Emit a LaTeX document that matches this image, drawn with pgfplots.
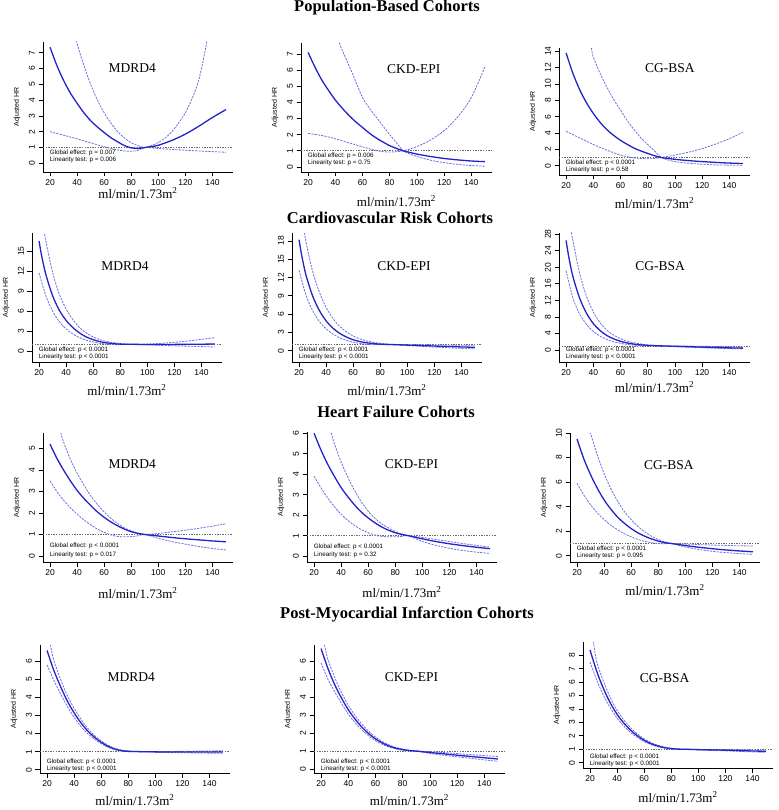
\documentclass[border=0pt]{standalone}
\usepackage{fontspec}
\setmainfont{Liberation Serif}
\newfontfamily\arialf{Liberation Sans}
\usepackage{pgfplots}
\pgfplotsset{compat=1.18}
\definecolor{mainc}{RGB}{35,35,200}
\definecolor{cic}{RGB}{110,110,225}
\definecolor{refc}{RGB}{105,105,105}
\newcommand{\tickfont}{\arialf\fontsize{8.5}{9.5}\selectfont}
\newcommand{\ylfont}{\arialf\fontsize{7}{8}\selectfont}
\newcommand{\ptfont}{\arialf\fontsize{6.3}{8}\selectfont}
\newcommand{\lblfont}{\fontsize{13.5}{15}\selectfont}
\newcommand{\xlfont}{\fontsize{13}{15}\selectfont}
\newcommand{\ttlfont}{\bfseries\fontsize{16.5}{18}\selectfont}
\pgfplotsset{
  rpanel/.style={
    scale only axis, anchor=south west,
    xmin=14.8, xmax=155.2,
    axis x line*=bottom, axis y line*=left,
    axis line style={-, line width=0.75pt, black},
    xtick={20,40,...,140},
    tick align=outside, major tick length=4.5pt,
    every tick/.style={black, line width=0.75pt},
    /pgf/number format/assume math mode=true,
    tick label style={font=\tickfont},
    yticklabel style={rotate=90, anchor=south},
    clip mode=individual,
  },
  mainl/.style={mainc, line width=1.3pt, smooth},
  cil/.style={cic, line width=0.8pt, dash pattern=on 2.2pt off 1.1pt, smooth},
  refl/.style={refc, line width=0.7pt, dash pattern=on 1.3pt off 1.3pt},
}
\newcommand{\refline}{\addplot[refl] coordinates {(14.8,1) (155.2,1)};}
\newcommand{\ptext}[4]{\node[anchor=south west, font=\ptfont, align=left, inner sep=0pt] at ([yshift=#1pt]rel axis cs:0.035,0) {Global effect: p #3\\[#2pt]Linearity test: p #4};}
\newcommand{\ylab}{\node[rotate=90, font=\ylfont] at ([xshift=-26pt]rel axis cs:0,0.5) {Adjusted HR};}
\newcommand{\xlab}[1]{\node[font=\xlfont] at ([yshift=-#1pt]rel axis cs:0.5,0) {ml/min/1.73m\textsuperscript{2}};}
\newcommand{\plab}[3]{\node[font=\lblfont] at (rel axis cs:#1,#2) {#3};}
\begin{document}
\begin{tikzpicture}
\useasboundingbox (0pt,0pt) rectangle (778pt,-810pt);
\node[font=\ttlfont, anchor=base] at (387pt,-12pt) {Population-Based Cohorts};
\node[font=\ttlfont, anchor=base] at (390pt,-223pt) {Cardiovascular Risk Cohorts};
\node[font=\ttlfont, anchor=base] at (396pt,-417pt) {Heart Failure Cohorts};
\node[font=\ttlfont, anchor=base] at (407pt,-618pt) {Post-Myocardial Infarction Cohorts};

% ---------- Row 1: Population-based ----------
\begin{axis}[rpanel, at={(43pt,-172pt)}, width=190pt, height=130pt, ymin=-0.55, ymax=7.68, ytick={0,...,7}]
\refline
\addplot[cil] coordinates {(38,8.6)(40,7.6)(45,6.2)(50,5.0)(55,4.0)(60,3.2)(65,2.55)(70,2.0)(75,1.6)(80,1.3)(85,1.12)(90,1.0)(95,1.12)(100,1.32)(105,1.6)(110,2.0)(115,2.55)(120,3.2)(125,4.1)(130,5.3)(135,7.3)(137,8.4)};
\addplot[cil] coordinates {(20,2.0)(30,1.78)(40,1.55)(50,1.3)(60,1.05)(70,0.85)(75,0.78)(80,0.76)(85,0.82)(90,1.0)(95,0.98)(100,0.94)(110,0.88)(120,0.83)(130,0.78)(140,0.74)(150,0.7)};
\addplot[mainl] coordinates {(20,7.35)(25,6.2)(30,5.25)(35,4.45)(40,3.8)(45,3.2)(50,2.7)(55,2.3)(60,1.95)(65,1.62)(70,1.36)(75,1.12)(80,0.98)(85,0.94)(90,1.0)(95,1.06)(100,1.14)(110,1.45)(120,1.85)(130,2.35)(140,2.9)(150,3.4)};
\plab{0.47}{0.80}{MDRD4}
\ptext{9}{-1}{= 0.007}{= 0.006}
\ylab \xlab{21}
\end{axis}

\begin{axis}[rpanel, at={(301pt,-172pt)}, width=191pt, height=129pt, ymin=-0.31, ymax=7.68, ytick={0,...,7}]
\refline
\addplot[cil] coordinates {(41,8.5)(43,7.7)(45,7.25)(50,6.3)(55,5.3)(60,4.3)(65,3.65)(70,3.1)(75,2.55)(80,2.0)(85,1.5)(90,1.0)(95,0.8)(100,0.65)(110,0.42)(120,0.27)(130,0.16)(140,0.09)(150,0.05)};
\addplot[cil] coordinates {(20,2.08)(30,1.95)(40,1.75)(50,1.5)(60,1.25)(70,1.02)(75,0.95)(80,0.93)(85,0.95)(90,1.0)(95,1.12)(100,1.27)(105,1.45)(110,1.67)(120,2.25)(130,3.1)(140,4.3)(150,6.2)};
\addplot[mainl] coordinates {(20,7.1)(25,6.2)(30,5.4)(35,4.75)(40,4.15)(45,3.65)(50,3.2)(55,2.8)(60,2.45)(65,2.1)(70,1.8)(75,1.55)(80,1.32)(85,1.15)(90,1.0)(95,0.9)(100,0.8)(110,0.65)(120,0.53)(130,0.44)(140,0.37)(150,0.33)};
\plab{0.59}{0.80}{CKD-EPI}
\ptext{6}{-1}{= 0.006}{= 0.75}
\ylab \xlab{29}
\end{axis}

\begin{axis}[rpanel, at={(559pt,-175pt)}, width=191pt, height=127pt, ymin=-1.14, ymax=14.4, ytick={0,2,...,14}]
\refline
\addplot[cil] coordinates {(37,16)(38.5,14.5)(40,13.3)(45,11.3)(50,9.6)(55,8.1)(60,6.8)(65,5.5)(70,4.4)(75,3.4)(80,2.6)(85,1.8)(90,1.0)(95,0.7)(100,0.5)(110,0.3)(120,0.18)(130,0.1)(140,0.06)(150,0.04)};
\addplot[cil] coordinates {(20,4.2)(30,3.4)(40,2.6)(50,1.9)(60,1.3)(70,0.95)(80,0.85)(85,0.88)(90,1.0)(100,1.3)(110,1.65)(120,2.1)(130,2.65)(140,3.3)(150,4.1)};
\addplot[mainl] coordinates {(20,13.8)(25,11.3)(30,9.3)(35,7.7)(40,6.4)(45,5.3)(50,4.4)(55,3.7)(60,3.1)(65,2.6)(70,2.15)(75,1.8)(80,1.5)(85,1.22)(90,1.0)(100,0.78)(110,0.62)(120,0.5)(130,0.4)(140,0.32)(150,0.26)};
\plab{0.58}{0.84}{CG-BSA}
\ptext{2}{-1}{< 0.0001}{= 0.58}
\ylab \xlab{28}
\end{axis}

% ---------- Row 2: Cardiovascular risk ----------
\begin{axis}[rpanel, at={(32pt,-362pt)}, width=190pt, height=129pt, ymin=-1.65, ymax=17.7, ytick={0,3,...,15}]
\refline
\addplot[cil] coordinates {(23,19)(24,17.7)(25,16.5)(30,11.8)(35,8.5)(40,6.3)(45,4.7)(50,3.5)(55,2.7)(60,2.1)(65,1.7)(70,1.42)(75,1.25)(80,1.12)(90,1.0)(100,1.05)(110,1.15)(120,1.3)(130,1.5)(140,1.75)(150,2.0)};
\addplot[cil] coordinates {(20,11.7)(25,8.3)(30,6.0)(35,4.4)(40,3.3)(45,2.55)(50,2.0)(55,1.6)(60,1.35)(65,1.15)(70,1.03)(75,0.97)(80,0.95)(90,1.0)(100,0.92)(110,0.85)(120,0.78)(130,0.72)(140,0.66)(150,0.6)};
\addplot[mainl] coordinates {(20,16.5)(22,14.2)(25,11.5)(30,8.3)(35,6.1)(40,4.6)(45,3.5)(50,2.7)(55,2.1)(60,1.7)(65,1.4)(70,1.22)(75,1.1)(80,1.03)(90,1.0)(100,0.98)(110,0.98)(120,0.99)(130,1.0)(140,1.02)(150,1.05)};
\plab{0.49}{0.74}{MDRD4}
\ptext{2}{-1}{< 0.0001}{< 0.0001}
\ylab \xlab{28}
\end{axis}

\begin{axis}[rpanel, at={(292pt,-362pt)}, width=190pt, height=129pt, ymin=-1.85, ymax=19.3, ytick={0,3,...,18}]
\refline
\addplot[cil] coordinates {(23,21)(24,19.3)(25,18)(30,13.0)(35,9.6)(40,7.1)(45,5.3)(50,4.0)(55,3.1)(60,2.4)(65,1.95)(70,1.6)(75,1.38)(80,1.2)(90,1.0)(100,0.98)(110,0.97)(120,0.95)(130,0.93)(140,0.9)(150,0.88)};
\addplot[cil] coordinates {(20,13.2)(25,9.2)(30,6.6)(35,4.8)(40,3.6)(45,2.75)(50,2.1)(55,1.7)(60,1.4)(65,1.2)(70,1.07)(75,1.0)(80,0.97)(90,1.0)(100,0.85)(110,0.72)(120,0.6)(130,0.5)(140,0.38)(150,0.3)};
\addplot[mainl] coordinates {(20,18.2)(22,15.6)(25,12.5)(30,9.0)(35,6.6)(40,4.9)(45,3.7)(50,2.85)(55,2.25)(60,1.8)(65,1.5)(70,1.3)(75,1.17)(80,1.08)(90,1.0)(100,0.92)(110,0.85)(120,0.77)(130,0.7)(140,0.62)(150,0.56)};
\plab{0.59}{0.74}{CKD-EPI}
\ptext{2}{-1}{< 0.0001}{< 0.0001}
\ylab \xlab{28}
\end{axis}

\begin{axis}[rpanel, at={(559pt,-362pt)}, width=191pt, height=129pt, ymin=-2.9, ymax=28.3, ytick={0,4,...,28}]
\refline
\addplot[cil] coordinates {(23,30)(24,28.3)(25,26.5)(30,18.5)(35,13)(40,9.2)(45,6.6)(50,4.8)(55,3.6)(60,2.75)(65,2.15)(70,1.75)(75,1.45)(80,1.25)(90,1.0)(100,0.98)(110,0.95)(120,0.9)(130,0.85)(140,0.78)(150,0.72)};
\addplot[cil] coordinates {(20,19.2)(25,12.6)(30,8.7)(35,6.2)(40,4.5)(45,3.35)(50,2.55)(55,2.0)(60,1.62)(65,1.35)(70,1.17)(75,1.07)(80,1.0)(90,1.0)(100,0.82)(110,0.68)(120,0.56)(130,0.45)(140,0.36)(150,0.28)};
\addplot[mainl] coordinates {(20,26.5)(22,22.5)(25,17.8)(30,12.5)(35,8.9)(40,6.4)(45,4.7)(50,3.5)(55,2.7)(60,2.1)(65,1.7)(70,1.42)(75,1.25)(80,1.12)(90,1.0)(100,0.9)(110,0.8)(120,0.7)(130,0.6)(140,0.52)(150,0.45)};
\plab{0.53}{0.74}{CG-BSA}
\ptext{2}{-1}{< 0.0001}{< 0.0001}
\ylab \xlab{25}
\end{axis}

% ---------- Row 3: Heart failure ----------
\begin{axis}[rpanel, at={(43pt,-562pt)}, width=190pt, height=129pt, ymin=-0.28, ymax=5.72, ytick={0,...,5}]
\refline
\addplot[cil] coordinates {(26,6.5)(28,5.72)(30,5.3)(35,4.5)(40,3.85)(45,3.3)(50,2.8)(55,2.4)(60,2.05)(65,1.75)(70,1.5)(75,1.3)(80,1.17)(85,1.07)(90,1.0)(100,1.05)(110,1.12)(120,1.2)(130,1.29)(140,1.39)(150,1.5)};
\addplot[cil] coordinates {(20,3.5)(25,3.0)(30,2.6)(35,2.25)(40,1.95)(45,1.68)(50,1.45)(55,1.25)(60,1.1)(65,0.98)(70,0.91)(75,0.89)(80,0.9)(85,0.94)(90,1.0)(100,0.82)(110,0.67)(120,0.55)(130,0.44)(140,0.35)(150,0.28)};
\addplot[mainl] coordinates {(20,5.2)(25,4.55)(30,4.0)(35,3.5)(40,3.05)(45,2.68)(50,2.35)(55,2.05)(60,1.8)(65,1.58)(70,1.4)(75,1.25)(80,1.13)(85,1.05)(90,1.0)(100,0.93)(110,0.86)(120,0.8)(130,0.75)(140,0.7)(150,0.66)};
\plab{0.47}{0.76}{MDRD4}
\ptext{4}{1}{< 0.0001}{= 0.017}
\ylab \xlab{31}
\end{axis}

\begin{axis}[rpanel, at={(307pt,-562pt)}, width=190pt, height=130pt, ymin=-0.28, ymax=6.06, ytick={0,...,6}]
\refline
\addplot[cil] coordinates {(31,6.5)(32.5,6.06)(35,5.5)(40,4.6)(45,3.85)(50,3.2)(55,2.65)(60,2.2)(65,1.85)(70,1.58)(75,1.38)(80,1.2)(85,1.08)(90,1.0)(100,0.92)(110,0.82)(120,0.72)(130,0.62)(140,0.53)(150,0.45)};
\addplot[cil] coordinates {(20,3.9)(25,3.35)(30,2.85)(35,2.42)(40,2.05)(45,1.75)(50,1.5)(55,1.3)(60,1.15)(65,1.03)(70,0.97)(75,0.95)(80,0.95)(85,0.97)(90,1.0)(100,0.72)(110,0.53)(120,0.39)(130,0.28)(140,0.2)(150,0.14)};
\addplot[mainl] coordinates {(20,6.0)(25,5.2)(30,4.5)(35,3.9)(40,3.35)(45,2.9)(50,2.5)(55,2.15)(60,1.87)(65,1.63)(70,1.43)(75,1.27)(80,1.15)(85,1.06)(90,1.0)(100,0.85)(110,0.72)(120,0.61)(130,0.52)(140,0.44)(150,0.37)};
\plab{0.55}{0.75}{CKD-EPI}
\ptext{4}{0}{< 0.0001}{= 0.32}
\ylab \xlab{30}
\end{axis}

\begin{axis}[rpanel, at={(570pt,-562pt)}, width=190pt, height=129pt, ymin=-0.5, ymax=10.0, ytick={0,2,...,10}]
\refline
\addplot[cil] coordinates {(29,10.6)(30,10.0)(35,8.2)(40,6.7)(45,5.45)(50,4.45)(55,3.6)(60,2.95)(65,2.4)(70,1.95)(75,1.6)(80,1.33)(85,1.14)(90,1.0)(100,0.96)(110,0.92)(120,0.88)(130,0.85)(140,0.82)(150,0.8)};
\addplot[cil] coordinates {(20,5.9)(25,4.95)(30,4.15)(35,3.5)(40,2.95)(45,2.5)(50,2.12)(55,1.8)(60,1.55)(65,1.34)(70,1.18)(75,1.07)(80,1.0)(85,0.98)(90,1.0)(100,0.72)(110,0.52)(120,0.37)(130,0.26)(140,0.18)(150,0.13)};
\addplot[mainl] coordinates {(20,9.5)(25,7.9)(30,6.6)(35,5.5)(40,4.55)(45,3.8)(50,3.15)(55,2.65)(60,2.22)(65,1.87)(70,1.6)(75,1.38)(80,1.2)(85,1.08)(90,1.0)(100,0.84)(110,0.7)(120,0.58)(130,0.48)(140,0.4)(150,0.33)};
\plab{0.52}{0.75}{CG-BSA}
\ptext{3}{-1}{< 0.0001}{= 0.095}
\ylab \xlab{28}
\end{axis}

% ---------- Row 4: Post-MI ----------
\begin{axis}[rpanel, at={(40pt,-773pt)}, width=190pt, height=128pt, ymin=-0.18, ymax=6.9, ytick={0,...,6}]
\refline
\addplot[cil] coordinates {(21.5,7.1)(22.5,6.9)(25,6.05)(30,5.0)(35,4.1)(40,3.4)(45,2.8)(50,2.3)(55,1.9)(60,1.6)(65,1.36)(70,1.19)(75,1.09)(80,1.04)(90,1.0)(100,1.0)(110,1.01)(120,1.02)(130,1.03)(140,1.04)(150,1.05)};
\addplot[cil] coordinates {(20,5.8)(25,4.95)(30,4.2)(35,3.5)(40,2.9)(45,2.4)(50,2.0)(55,1.7)(60,1.44)(65,1.24)(70,1.11)(75,1.03)(80,1.0)(90,1.0)(100,0.97)(110,0.95)(120,0.94)(130,0.93)(140,0.92)(150,0.91)};
\addplot[mainl] coordinates {(20,6.6)(25,5.5)(30,4.6)(35,3.8)(40,3.15)(45,2.6)(50,2.15)(55,1.8)(60,1.52)(65,1.3)(70,1.15)(75,1.06)(80,1.02)(90,1.0)(100,0.99)(110,0.98)(120,0.98)(130,0.98)(140,0.98)(150,0.98)};
\plab{0.48}{0.75}{MDRD4}
\ptext{1}{-1}{< 0.0001}{< 0.0001}
\ylab \xlab{27}
\end{axis}

\begin{axis}[rpanel, at={(314pt,-773pt)}, width=191pt, height=128pt, ymin=-0.22, ymax=6.9, ytick={0,...,6}]
\refline
\addplot[cil] coordinates {(21.5,7.1)(22.5,6.9)(25,6.1)(30,5.1)(35,4.25)(40,3.55)(45,2.98)(50,2.5)(55,2.1)(60,1.78)(65,1.53)(70,1.34)(75,1.2)(80,1.11)(85,1.04)(90,1.0)(100,0.97)(110,0.92)(120,0.86)(130,0.8)(140,0.75)(150,0.7)};
\addplot[cil] coordinates {(20,5.9)(25,5.0)(30,4.3)(35,3.65)(40,3.05)(45,2.58)(50,2.17)(55,1.85)(60,1.58)(65,1.37)(70,1.22)(75,1.12)(80,1.05)(85,1.01)(90,1.0)(100,0.87)(110,0.77)(120,0.68)(130,0.6)(140,0.51)(150,0.43)};
\addplot[mainl] coordinates {(20,6.7)(25,5.6)(30,4.7)(35,3.95)(40,3.3)(45,2.78)(50,2.33)(55,1.97)(60,1.68)(65,1.45)(70,1.28)(75,1.16)(80,1.08)(85,1.03)(90,1.0)(100,0.92)(110,0.85)(120,0.77)(130,0.7)(140,0.63)(150,0.56)};
\plab{0.51}{0.75}{CKD-EPI}
\ptext{1}{-1}{< 0.0001}{< 0.0001}
\ylab \xlab{27}
\end{axis}

\begin{axis}[rpanel, at={(583pt,-768pt)}, width=190pt, height=126pt, ymin=-0.4, ymax=9.0, ytick={0,...,8}]
\refline
\addplot[cil] coordinates {(21.5,9.3)(22.5,9.0)(25,7.5)(30,6.05)(35,4.85)(40,3.9)(45,3.18)(50,2.6)(55,2.14)(60,1.77)(65,1.5)(70,1.3)(75,1.16)(80,1.07)(85,1.02)(90,1.0)(100,0.99)(110,0.98)(120,0.97)(130,0.96)(140,0.95)(150,0.94)};
\addplot[cil] coordinates {(20,7.5)(25,6.15)(30,5.0)(35,4.08)(40,3.32)(45,2.73)(50,2.25)(55,1.87)(60,1.57)(65,1.35)(70,1.19)(75,1.08)(80,1.03)(85,1.0)(90,1.0)(100,0.95)(110,0.91)(120,0.88)(130,0.84)(140,0.8)(150,0.77)};
\addplot[mainl] coordinates {(20,8.4)(25,6.8)(30,5.5)(35,4.45)(40,3.6)(45,2.95)(50,2.42)(55,2.0)(60,1.67)(65,1.42)(70,1.24)(75,1.12)(80,1.05)(85,1.01)(90,1.0)(100,0.97)(110,0.95)(120,0.93)(130,0.9)(140,0.87)(150,0.85)};
\plab{0.43}{0.71}{CG-BSA}
\ptext{1}{-1}{< 0.0001}{< 0.0001}
\ylab \xlab{29}
\end{axis}
\end{tikzpicture}
\end{document}
